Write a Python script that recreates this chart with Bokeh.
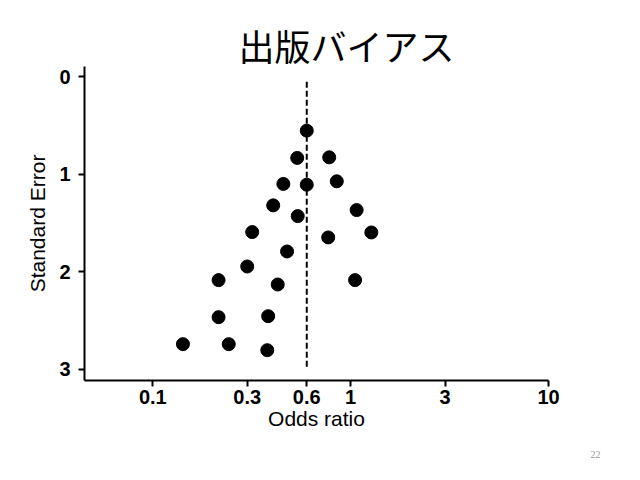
from bokeh.plotting import figure
from bokeh.models import Range1d, FixedTicker, Title, NumeralTickFormatter
from bokeh.embed import file_html
from bokeh.resources import INLINE

title_text = "出版バイアス"
x_label = "Odds ratio"
y_label = "Standard Error"
page_number = "22"

odds_ratio = [0.600, 0.537, 0.779, 0.457, 0.600, 0.851, 0.406, 0.540, 1.072, 0.318, 0.770,
              1.272, 0.477, 0.300, 0.215, 0.428, 1.053, 0.215, 0.383, 0.142, 0.242, 0.379]
standard_error = [0.552, 0.832, 0.826, 1.099, 1.107, 1.072, 1.319, 1.429, 1.367, 1.593, 1.648,
                  1.597, 1.792, 1.946, 2.086, 2.131, 2.086, 2.466, 2.456, 2.743, 2.743, 2.805]
x_ticks = [0.1, 0.3, 0.6, 1, 3, 10]
y_ticks = [0, 1, 2, 3]
pooled_or = 0.6
ref_line_se = [0.05, 3.0]

p = figure(width=624, height=479, x_axis_type="log",
           x_range=Range1d(0.04516, 10), y_range=Range1d(3.116, -0.106),
           output_backend="svg", toolbar_location=None,
           min_border_left=84, min_border_right=76, min_border_top=66, min_border_bottom=99)
p.outline_line_color = None
p.grid.visible = False
p.background_fill_color = "white"
p.border_fill_color = "white"

p.line([pooled_or, pooled_or], ref_line_se, line_dash="6 3", line_width=2, color="black")
p.scatter(odds_ratio, standard_error, size=13, color="black")

for ax in (p.xaxis[0], p.yaxis[0]):
    ax.axis_line_width = 2
    ax.axis_line_color = "black"
    ax.major_tick_line_width = 2
    ax.major_tick_line_color = "black"
    ax.major_tick_in = 0
    ax.major_tick_out = 6
    ax.minor_tick_line_color = None
    ax.major_label_text_font = "Liberation Sans"
    ax.major_label_text_font_style = "bold"
    ax.major_label_text_font_size = "20px"
    ax.major_label_text_color = "black"
    ax.axis_label_text_font = "Liberation Sans"
    ax.axis_label_text_font_style = "normal"
    ax.axis_label_text_font_size = "21px"
    ax.axis_label_text_color = "black"

p.xaxis.ticker = FixedTicker(ticks=x_ticks)
p.xaxis.formatter = NumeralTickFormatter(format="0.[0]")
p.xaxis.axis_label = x_label
p.xaxis.major_label_standoff = 3
p.xaxis.axis_label_standoff = 0

p.yaxis.ticker = FixedTicker(ticks=y_ticks)
p.yaxis.axis_label = y_label
p.yaxis.major_label_standoff = 8
p.yaxis.axis_label_standoff = 7

p.add_layout(Title(text=title_text, align="left", offset=154, standoff=-8,
                   text_font="Noto Sans CJK JP", text_font_size="36px",
                   text_font_style="normal", text_color="black"), "above")
p.add_layout(Title(text=page_number, align="right", offset=-52, standoff=33,
                   text_font="Liberation Serif", text_font_size="10px",
                   text_font_style="normal", text_color="#9a9a9a"), "below")

open("out.html", "w").write(file_html(p, INLINE))
